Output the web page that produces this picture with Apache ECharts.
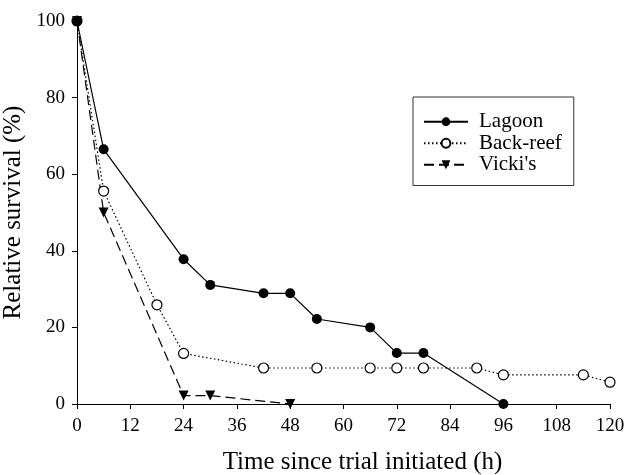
<!DOCTYPE html>
<html>
<head>
<meta charset="utf-8">
<script src="https://cdn.jsdelivr.net/npm/echarts@6/dist/echarts.min.js"></script>
<style>
  html, body { margin: 0; padding: 0; background: #fff; }
  #chart { width: 630px; height: 475px; }
</style>
</head>
<body>
<div id="chart"></div>
<script>
// datos
const seriesNames = ["Lagoon", "Back-reef", "Vicki's"];
const lagoonHours = [0, 6, 24, 30, 42, 48, 54, 66, 72, 78, 96];
const lagoonSurvival = [100, 66.5, 37.8, 31.1, 28.9, 28.9, 22.2, 20.0, 13.3, 13.3, 0];
const backReefHours = [0, 6, 18, 24, 42, 54, 66, 72, 78, 90, 96, 114, 120];
const backReefSurvival = [100, 55.6, 25.9, 13.2, 9.4, 9.4, 9.4, 9.4, 9.4, 9.4, 7.6, 7.6, 5.7];
const vickisHours = [0, 6, 24, 30, 48];
const vickisSurvival = [100, 50, 2.2, 2.2, 0];
const xTicks = [0, 12, 24, 36, 48, 60, 72, 84, 96, 108, 120];
const yTicks = [0, 20, 40, 60, 80, 100];

const pairs = (xs, ys) => xs.map((x, i) => [x, ys[i]]);
const font = "Liberation Serif";

const chart = echarts.init(document.getElementById("chart"));

const axisCommon = {
    axisLine: { show: true, lineStyle: { color: "#000", width: 1 } },
    axisTick: { show: true, inside: false, length: 5, lineStyle: { color: "#000" } },
    axisLabel: { color: "#000", fontFamily: font, fontSize: 19 },
    splitLine: { show: false },
    nameLocation: "middle",
    nameTextStyle: { color: "#000", fontFamily: font }
};

chart.setOption({
    animation: false,
    backgroundColor: "#fff",
    grid: { left: 77, right: 20, top: 21, bottom: 71, outerBoundsMode: "none", containLabel: false },
    legend: {
        orient: "vertical",
        left: 413,
        top: 97,
        padding: [14, 12, 10, 10],
        itemGap: 0,
        itemWidth: 44,
        itemHeight: 11,
        borderColor: "#333",
        borderWidth: 1,
        textStyle: { color: "#000", fontFamily: font, fontSize: 21, lineHeight: 21.5, padding: [0, 0, 0, 6] },
        data: seriesNames
    },
    xAxis: Object.assign({}, axisCommon, {
        type: "value",
        min: 0,
        max: 120,
        interval: 12,
        name: "Time since trial initiated (h)",
        nameGap: 46,
        nameTextStyle: { color: "#000", fontFamily: font, fontSize: 25, padding: [0, 0, 0, 38] },
        axisLabel: Object.assign({}, axisCommon.axisLabel, {
            margin: 13,
            formatter: v => (xTicks.includes(v) ? String(v) : "")
        })
    }),
    yAxis: Object.assign({}, axisCommon, {
        type: "value",
        min: 0,
        max: 100,
        interval: 20,
        name: "Relative survival (%)",
        nameGap: 46,
        nameTextStyle: { color: "#000", fontFamily: font, fontSize: 25 },
        axisLabel: Object.assign({}, axisCommon.axisLabel, {
            margin: 12,
            formatter: v => (yTicks.includes(v) ? String(v) : "")
        })
    }),
    series: [
        {
            name: seriesNames[0],
            type: "line",
            data: pairs(lagoonHours, lagoonSurvival),
            symbol: "circle",
            symbolSize: 10,
            itemStyle: { color: "#000" },
            lineStyle: { color: "#000", width: 1.2, type: "solid" },
            z: 3
        },
        {
            name: seriesNames[1],
            type: "line",
            data: pairs(backReefHours, backReefSurvival),
            symbol: "circle",
            symbolSize: 10,
            itemStyle: { color: "#fff", borderColor: "#000", borderWidth: 1.2 },
            lineStyle: { color: "#000", width: 1.2, type: [1.5, 2.5] },
            z: 2
        },
        {
            name: seriesNames[2],
            type: "line",
            data: pairs(vickisHours, vickisSurvival),
            symbol: "triangle",
            symbolRotate: 180,
            symbolSize: 10,
            itemStyle: { color: "#000" },
            lineStyle: { color: "#000", width: 1.2, type: [10, 5] },
            z: 1
        }
    ]
});
</script>
</body>
</html>
